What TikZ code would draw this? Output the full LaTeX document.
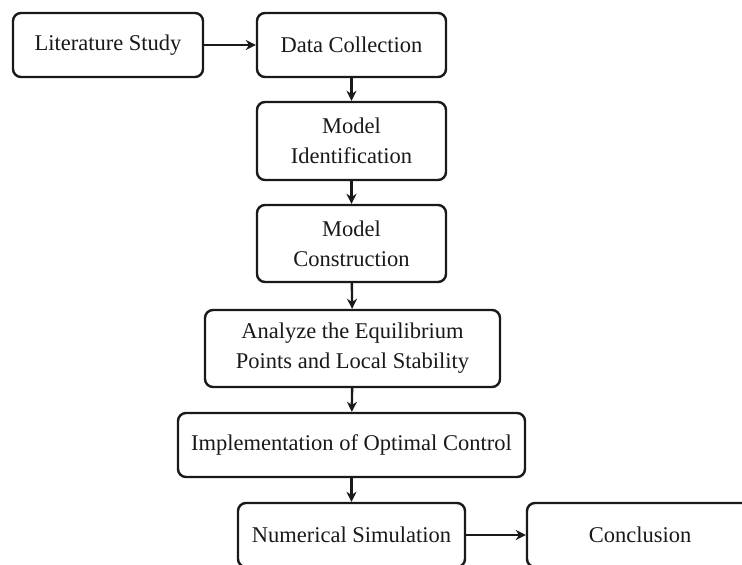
\documentclass[tikz,border=0pt]{standalone}
\usepackage{fontspec}
\setmainfont{Liberation Serif}
\usetikzlibrary{arrows.meta}
\begin{document}
\begin{tikzpicture}[x=1pt,y=-1pt,
  stepbox/.style={draw=black!90, line width=2.4pt, rounded corners=8pt,
    inner sep=0pt, align=center, font=\fontsize{22.5}{30}\selectfont,
    text=black!90},
  flow/.style={draw=black!90, line width=2.4pt,
    -{Stealth[length=10pt,width=10pt]}}]
  \useasboundingbox (0,0) rectangle (742,565);
  \clip (0,0) rectangle (742,565);
  \fill[white] (0,0) rectangle (742,565);
  \node[stepbox, minimum width=190pt, minimum height=64pt] (lit) at (108,45) {Literature Study};
  \node[stepbox, minimum width=189pt, minimum height=64pt] (data) at (351.5,45) {Data Collection};
  \node[stepbox, minimum width=189pt, minimum height=78pt] (ident) at (351.5,141) {Model\\Identification};
  \node[stepbox, minimum width=189pt, minimum height=77pt] (constr) at (351.5,243.5) {Model\\Construction};
  \node[stepbox, minimum width=295pt, minimum height=77pt] (equil) at (352.5,348.5) {Analyze the Equilibrium\\Points and Local Stability};
  \node[stepbox, minimum width=347pt, minimum height=64pt] (ctrl) at (351.5,445) {Implementation of Optimal Control};
  \node[stepbox, minimum width=227pt, minimum height=64pt] (sim) at (351.5,535) {Numerical Simulation};
  \node[stepbox, minimum width=226pt, minimum height=64pt] (concl) at (640,535) {Conclusion};
  \draw[flow] (lit) -- (data);
  \draw[flow] (data) -- (ident);
  \draw[flow] (ident) -- (constr);
  \draw[flow] (constr) -- (equil);
  \draw[flow] (equil) -- (ctrl);
  \draw[flow] (ctrl) -- (sim);
  \draw[flow] (sim) -- (concl);
\end{tikzpicture}
\end{document}
